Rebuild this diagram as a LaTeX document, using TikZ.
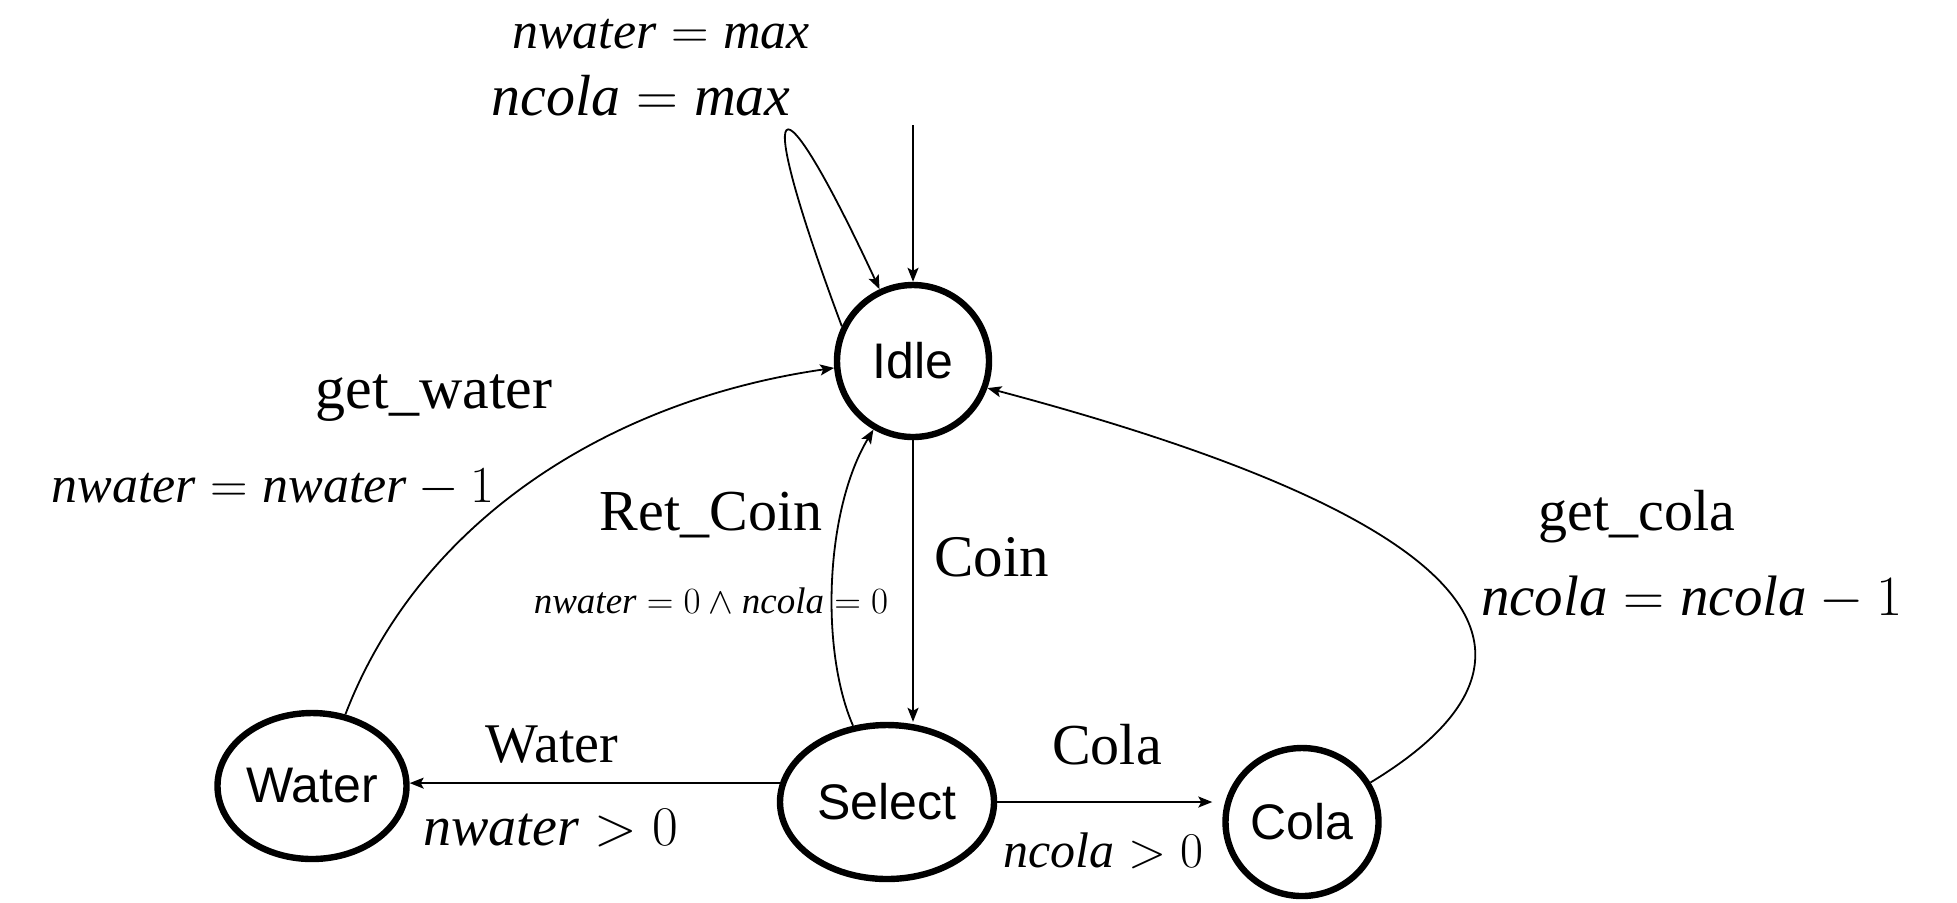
\RequirePackage{fix-cm}
\documentclass[tikz,border=0pt]{standalone}
\usepackage{amsmath}
\usepackage{fontspec}
\setmainfont{Liberation Serif}
\newfontfamily\mf{Liberation Serif}
\newfontfamily\statefont{Liberation Sans}
\usetikzlibrary{shapes.geometric,arrows.meta}
\newcommand\mv[1]{\text{\mf\itshape #1}}
\begin{document}
\begin{tikzpicture}[x=0.5pt,y=-0.5pt,
  state/.style={draw,line width=3.2pt,inner sep=0pt,font=\statefont\fontsize{25}{30}\selectfont},
  edge/.style={line width=0.9pt,-{Stealth[length=7pt,width=5.5pt,inset=1.5pt]}},
  lbl/.style={inner sep=0pt,anchor=base,font=\fontsize{#1}{#1}\selectfont}]
\useasboundingbox (0,0) rectangle (1957,902);
\node[state,circle,minimum size=76pt] (idle) at (913,361) {Idle};
\node[state,ellipse,minimum width=94.5pt,minimum height=73pt] (water) at (312,786) {Water};
\node[state,ellipse,minimum width=107pt,minimum height=77pt] (select) at (887,802) {Select};
\node[state,ellipse,minimum width=76.5pt,minimum height=74pt] (cola) at (1302,822) {Cola};
\coordinate (init) at (913,125);
\draw[edge] (init) -- (idle);
\draw[edge] (idle.154) .. controls (750,80) and (775,65) .. (idle.115);
\draw[edge] (water.65) .. controls (420,520) and (610,400) .. (idle.185);
\draw[edge] (select.114) .. controls (820,650) and (825,510) .. (idle.240);
\draw[edge] (idle.south) -- (idle.south |- select.north);
\draw[edge] (select.170) -- (select.170 -| water.east);
\draw[edge,shorten >=5pt] (select.east) -- (select.east -| cola.west);
\draw[edge] (cola.30) .. controls (1540,680) and (1560,540) .. (idle.340);
\node[lbl=26] (lmaxw) at (661,48) {$\mv{nwater} = \mv{max}$};
\node[lbl=29] (lmaxc) at (641,115) {$\mv{ncola} = \mv{max}$};
\node[lbl=30] (lgw) at (434,408) {get\_water};
\node[lbl=26] (lgwc) at (273,502) {$\mv{nwater} = \mv{nwater} - 1$};
\node[lbl=29] (lrc) at (711,530) {Ret\_Coin};
\node[lbl=18.5] (lrcc) at (711,613) {$\mv{nwater} = 0 \wedge \mv{ncola} = 0$};
\node[lbl=29.5] (lcoin) at (992,576) {Coin};
\node[lbl=28] (lw) at (552,762) {Water};
\node[lbl=28] (lwc) at (551,845) {$\mv{nwater} > 0$};
\node[lbl=29] (lc) at (1107,764) {Cola};
\node[lbl=25] (lcc) at (1103,867) {$\mv{ncola} > 0$};
\node[lbl=29] (lgc) at (1637,530) {get\_cola};
\node[lbl=28.5] (lgcc) at (1692,615) {$\mv{ncola} = \mv{ncola} - 1$};
\end{tikzpicture}
\end{document}
